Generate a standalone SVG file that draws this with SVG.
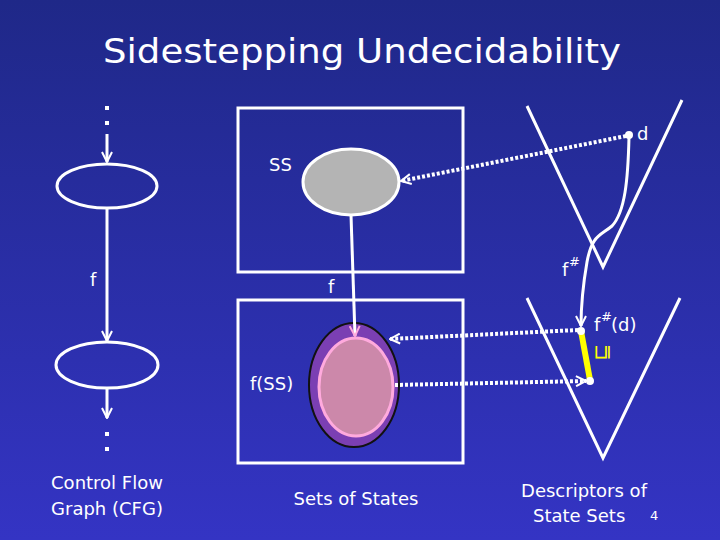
<svg xmlns="http://www.w3.org/2000/svg" width="720" height="540" viewBox="0 0 720 540">
<defs>
<linearGradient id="bg" x1="0" y1="0" x2="0" y2="1">
<stop offset="0" stop-color="#1f2888"/>
<stop offset="1" stop-color="#3434c4"/>
</linearGradient>
<marker id="ahw" viewBox="0 0 12 12" refX="11" refY="6" markerWidth="12" markerHeight="12" orient="auto" markerUnits="userSpaceOnUse">
<path d="M1,1 L11,6 L1,11" fill="none" stroke="#fff" stroke-width="2"/>
</marker>
<marker id="ahp" viewBox="0 0 12 12" refX="11" refY="6" markerWidth="12" markerHeight="12" orient="auto" markerUnits="userSpaceOnUse">
<path d="M1,1 L11,6 L1,11" fill="none" stroke="#ffaadd" stroke-width="2"/>
</marker>
</defs>
<style>
text{font-family:"DejaVu Sans","Liberation Sans",sans-serif;fill:#fff}
.ln{stroke:#fff;stroke-width:3;fill:none}
.dot{stroke:#fff;stroke-width:4;fill:none;stroke-dasharray:3 2}
.box{stroke:#fff;stroke-width:3;fill:none}
.lbl{font-size:18px}
.sup{font-size:13px}
</style>
<rect width="720" height="540" fill="url(#bg)"/>
<text x="362" y="63" font-size="34" text-anchor="middle" textLength="518" lengthAdjust="spacingAndGlyphs">Sidestepping Undecidability</text>

<g id="cfg">
<rect x="105" y="106" width="4" height="4" fill="#fff"/>
<rect x="105" y="121" width="4" height="4" fill="#fff"/>
<ellipse id="cfg-n1" cx="107" cy="186" rx="50" ry="22" class="ln"/>
<ellipse id="cfg-n2" cx="107" cy="365" rx="51" ry="23" class="ln"/>
<rect x="105" y="432" width="4" height="4" fill="#fff"/>
<rect x="105" y="447" width="4" height="4" fill="#fff"/>
<text x="90" y="286" class="lbl">f</text>
<text x="107" y="489" class="lbl" text-anchor="middle">Control Flow</text>
<text x="107" y="515" class="lbl" text-anchor="middle">Graph (CFG)</text>
</g>

<g id="sets">
<rect x="238" y="108" width="225" height="164" class="box"/>
<rect x="238" y="300" width="225" height="163" class="box"/>
<text x="269" y="171" class="lbl">SS</text>
<ellipse id="ss" cx="351" cy="182" rx="48" ry="33" fill="#b4b4b4" stroke="#fff" stroke-width="3"/>
<text x="328" y="293" class="lbl">f</text>
<ellipse id="fss-outer" cx="354" cy="385" rx="45" ry="62" fill="#7b3fb3" stroke="#111" stroke-width="2"/>
<ellipse id="fss" cx="356" cy="387" rx="37" ry="49" fill="#cc88aa" stroke="#ffaadd" stroke-width="3"/>
<text x="250" y="390" class="lbl">f(SS)</text>
<text x="356" y="505" class="lbl" text-anchor="middle">Sets of States</text>
</g>

<g id="descriptors">
<polyline points="527,106 603,267 682,100" class="ln"/>
<polyline points="527,298 603,458 680,298" class="ln"/>
<circle cx="629" cy="135" r="4" fill="#fff"/>
<text x="637" y="140" class="lbl">d</text>
<text x="562" y="276" class="lbl">f</text>
<text x="569" y="266" class="sup">#</text>
<line x1="581" y1="331" x2="590" y2="380" stroke="#ffff00" stroke-width="6"/>
<circle cx="581" cy="331" r="4" fill="#fff"/>
<circle cx="590" cy="381" r="4" fill="#fff"/>
<text x="594" y="331" class="lbl">f</text>
<text x="601" y="321" class="sup">#</text>
<text x="611" y="331" class="lbl">(d)</text>
<text transform="translate(601,352) rotate(-90)" font-size="20" style="fill:#ffff00" text-anchor="middle" dominant-baseline="central">⊑</text>
<text x="584" y="497" class="lbl" text-anchor="middle">Descriptors of</text>
<text x="533" y="522" class="lbl">State Sets</text>
<text x="650" y="520" font-size="13">4</text>
</g>

<g id="connectors">
<line x1="107" y1="134" x2="107" y2="162" class="ln" marker-end="url(#ahw)"/>
<line x1="107" y1="208" x2="107" y2="341" class="ln" marker-end="url(#ahw)"/>
<line x1="107" y1="388" x2="107" y2="418" class="ln" marker-end="url(#ahw)"/>
<line x1="351" y1="215" x2="355" y2="336" class="ln" marker-end="url(#ahp)"/>
<line x1="626" y1="136" x2="401" y2="181" class="dot" marker-end="url(#ahw)"/>
<line x1="578" y1="330" x2="390" y2="339" class="dot" marker-end="url(#ahw)"/>
<line x1="395" y1="385" x2="586" y2="381" class="dot" marker-end="url(#ahw)"/>
<path d="M629,137 C628,180 625,212 612,226 C600,236 592,235 587,262 C583,285 581,305 581,326" class="ln" marker-end="url(#ahw)"/>
</g>
</svg>
